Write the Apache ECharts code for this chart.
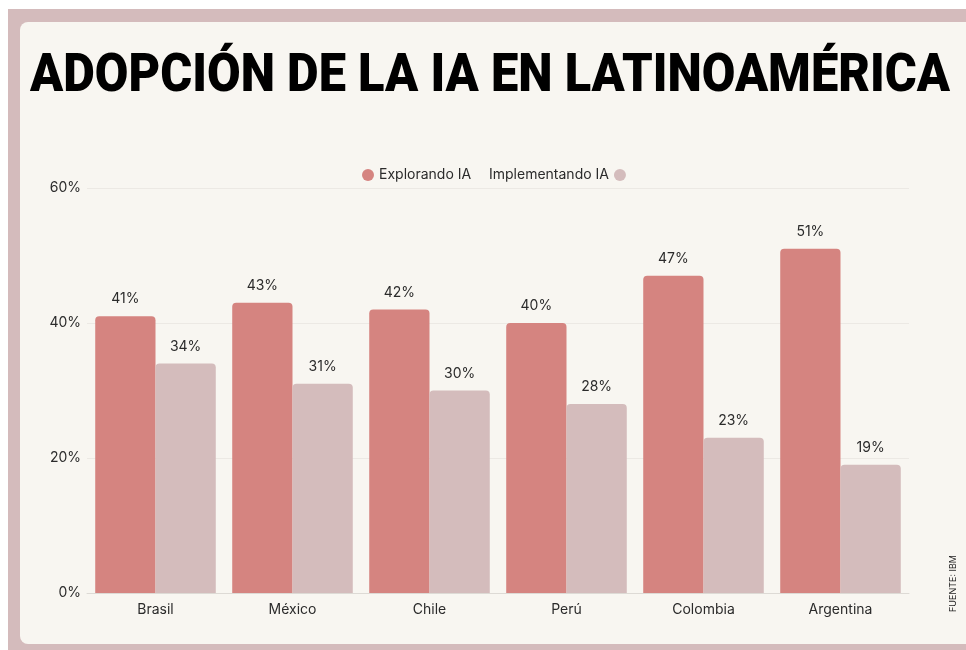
<!DOCTYPE html>
<html><head><meta charset="utf-8">
<script src="https://cdn.jsdelivr.net/npm/echarts@6/dist/echarts.min.js"></script>
<style>html,body{margin:0;padding:0;background:#fff}#c{width:966px;height:650px}</style>
</head><body><div id="c"></div>
<script>
var categories = ['Brasil', 'México', 'Chile', 'Perú', 'Colombia', 'Argentina'];
var explorando = [41, 43, 42, 40, 47, 51];
var implementando = [34, 31, 30, 28, 23, 19];
var yTicks = [0, 20, 40, 60];

var titleText = 'ADOPCIÓN DE LA IA EN LATINOAMÉRICA';
var titleFont = '900 54px Roboto, "DejaVu Sans", sans-serif';
var cv = document.createElement('canvas').getContext('2d');
cv.font = titleFont;
var tw = cv.measureText(titleText).width;
var sx = 920 / tw;

var chart = echarts.init(document.getElementById('c'));
var txt = '#2b2b2b';
chart.setOption({
  backgroundColor: '#ffffff',
  graphic: [
    {type:'rect', z:-10, shape:{x:8,y:9,width:970,height:645}, style:{fill:'#D4BBBC'}, silent:true},
    {type:'rect', z:-9, shape:{x:20,y:22,width:960,height:622,r:8}, style:{fill:'#F8F6F1'}, silent:true},
    {type:'text', x:490, y:77, scaleX:sx, scaleY:1, originX:0, originY:0,
     style:{text:titleText, fill:'#000', font:titleFont, textAlign:'center', textVerticalAlign:'middle'}},
    {type:'text', x:953, y:612, rotation:Math.PI/2, style:{text:'FUENTE: IBM', fill:'#222', font:'9px Inter, sans-serif', textAlign:'left', textVerticalAlign:'middle'}}
  ],
  legend: [
    {data:['Explorando IA'], left:357, top:163, icon:'circle', itemWidth:12, itemHeight:12, itemGap:4, align:'left',
     textStyle:{color:txt, fontSize:14, fontFamily:'Inter'}},
    {data:['Implementando IA'], left:484, top:163, icon:'circle', itemWidth:12, itemHeight:12, align:'right',
     textStyle:{color:txt, fontSize:14, fontFamily:'Inter'}}
  ],
  grid: {left:87, right:57, top:188, bottom:57},
  xAxis: {type:'category', data:categories,
    axisLine:{lineStyle:{color:'#DDDAD5'}}, axisTick:{show:false},
    axisLabel:{color:txt, fontSize:14, fontFamily:'Inter', margin:10}},
  yAxis: {type:'value', min:0, max:60, interval:20,
    axisLabel:{color:txt, fontSize:14, fontFamily:'Inter', margin:6, formatter:function(v){return v+'%';}},
    splitLine:{lineStyle:{color:'#ECE9E4'}}, axisLine:{show:false}, axisTick:{show:false}},
  series: [
    {name:'Explorando IA', type:'bar', data:explorando, barGap:'0%', barCategoryGap:'12%',
     itemStyle:{color:'#D58480', borderRadius:[4,4,0,0]},
     label:{show:true, position:'top', distance:10, formatter:'{c}%', color:txt, fontSize:14, fontFamily:'Inter'}},
    {name:'Implementando IA', type:'bar', data:implementando,
     itemStyle:{color:'#D4BCBC', borderRadius:[4,4,0,0]},
     label:{show:true, position:'top', distance:10, formatter:'{c}%', color:txt, fontSize:14, fontFamily:'Inter'}}
  ]
});
</script></body></html>
